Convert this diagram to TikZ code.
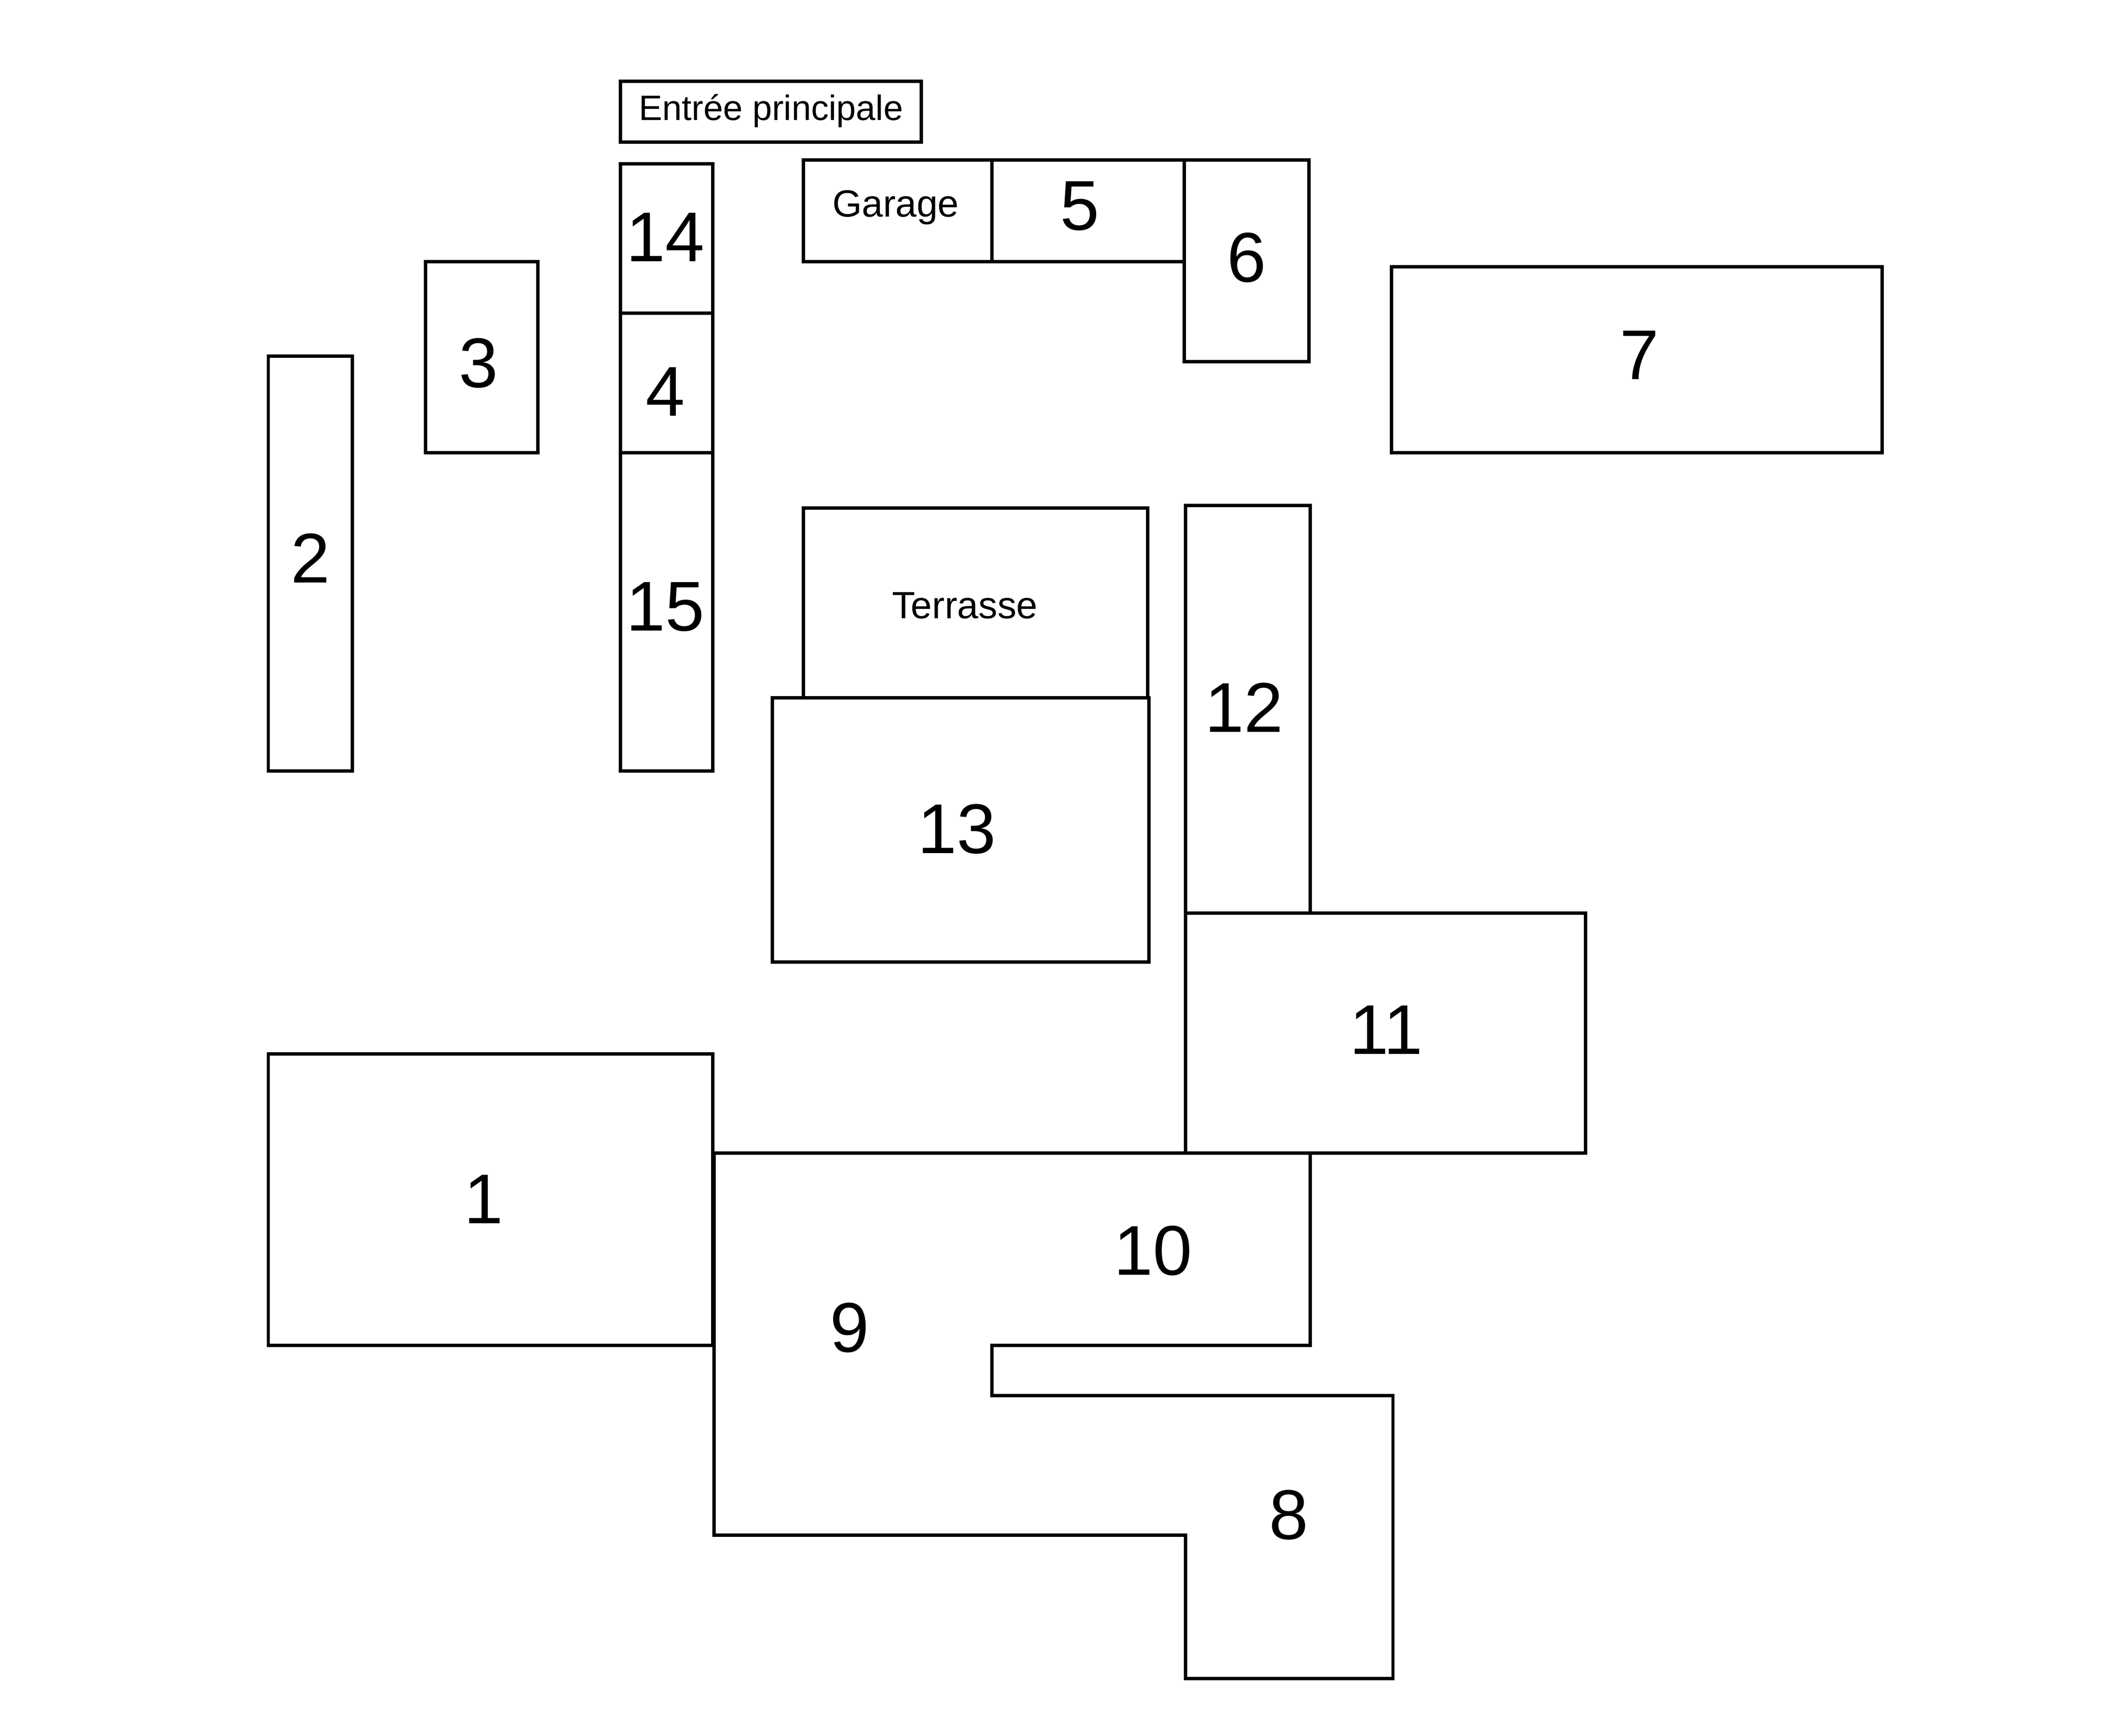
\documentclass[tikz,border=0pt]{standalone}
\usepackage{fontspec}
\setmainfont{Liberation Sans}
\begin{document}
\begin{tikzpicture}[x=1pt,y=-1pt,line width=2.5pt,
  room/.style={draw=black},
  num/.style={font=\fontsize{52}{52}\selectfont},
  lbl/.style={font=\fontsize{28}{28}\selectfont}]
\useasboundingbox[fill=white] (0,0) rectangle (1552,1281);
\draw[room] (458,60) rectangle (680,105);
\node[lbl,font=\fontsize{26}{26}\selectfont] (entree) at (569,82) {Entrée principale};
\draw[room] (458,121) rectangle (526,231);
\draw[room] (458,231) rectangle (526,334);
\draw[room] (458,334) rectangle (526,569);
\draw[room] (593,118) rectangle (732,193);
\draw[room] (732,118) rectangle (874,193);
\draw[room] (874,118) rectangle (966,267);
\draw[room] (1027,197) rectangle (1389,334);
\draw[room] (314,193) rectangle (397,334);
\draw[room] (198,263) rectangle (260,569);
\draw[room] (593,375) rectangle (847,515);
\draw[room] (570,515) rectangle (848,710);
\draw[room] (875,373) rectangle (967,674);
\draw[room] (875,674) rectangle (1170,851);
\draw[room] (198,778) rectangle (526,993);
\draw[room] (527,851) -- (967,851) -- (967,993) -- (732,993) -- (732,1030) -- (1028,1030) -- (1028,1239) -- (875,1239) -- (875,1133) -- (527,1133) -- cycle;
\node[num] (n14) at (491,175) {14};
\node[num] (n4) at (491,289) {4};
\node[num] (n15) at (491,448) {15};
\node[lbl] (garage) at (661,153) {Garage};
\node[num] (n5) at (797,152) {5};
\node[num] (n6) at (920,190) {6};
\node[num] (n7) at (1210,262) {7};
\node[num] (n3) at (353,268) {3};
\node[num] (n2) at (229,412) {2};
\node[lbl] (terr) at (712,447) {Terrasse};
\node[num] (n13) at (706,612) {13};
\node[num] (n12) at (918,522) {12};
\node[num] (n11) at (1023,760) {11};
\node[num] (n1) at (357,885) {1};
\node[num] (n9) at (627,980) {9};
\node[num] (n10) at (851,923) {10};
\node[num] (n8) at (951,1118) {8};
\end{tikzpicture}
\end{document}
